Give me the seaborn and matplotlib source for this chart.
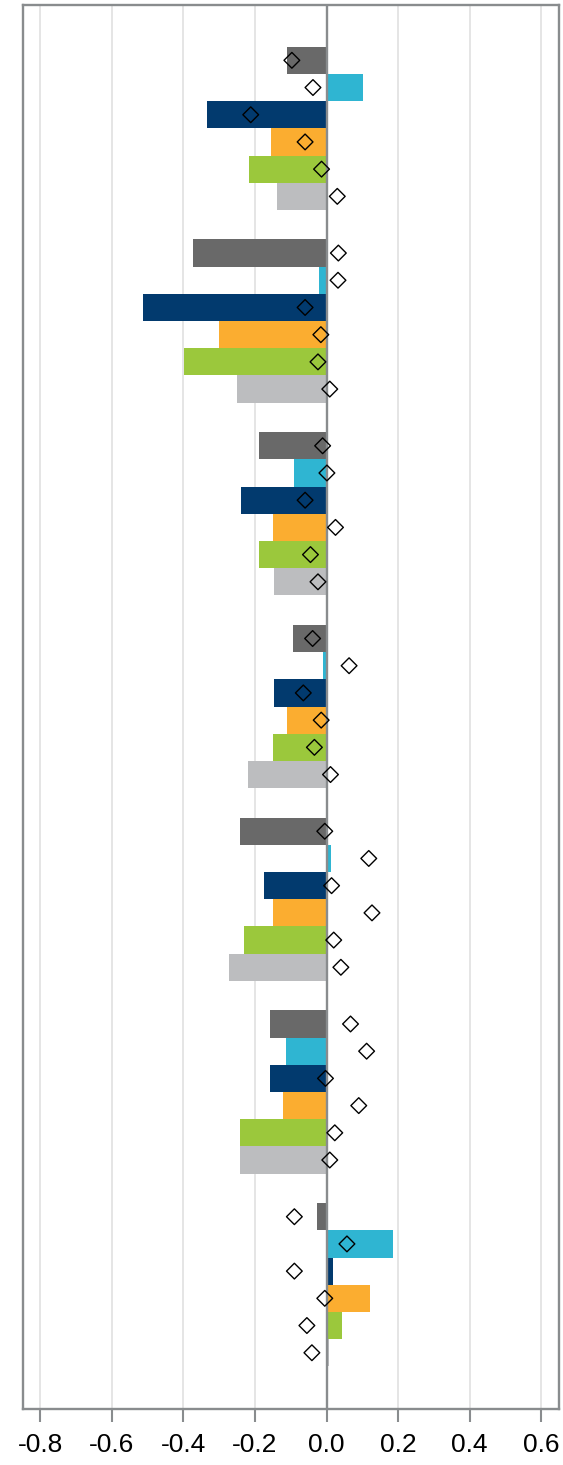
import matplotlib
matplotlib.use("Agg")
import matplotlib.pyplot as plt
import seaborn as sns
import pandas as pd
import numpy as np

# groupes (pas d'étiquettes visibles sur l'axe vertical)
groups = ["G1", "G2", "G3", "G4", "G5", "G6", "G7"]
series = ["S1", "S2", "S3", "S4", "S5", "S6"]
colors = ["#696969", "#2FB5D2", "#023A6E", "#FBAD30", "#9BC83C", "#BCBDBF"]

# valeurs des barres, une liste par série (dans l'ordre des groupes)
s1_bars = [-0.111, -0.373, -0.189, -0.095, -0.243, -0.159, -0.028]
s2_bars = [0.102, -0.020, -0.092, -0.010, 0.013, -0.113, 0.185]
s3_bars = [-0.333, -0.513, -0.240, -0.146, -0.176, -0.158, 0.018]
s4_bars = [-0.156, -0.302, -0.151, -0.111, -0.149, -0.123, 0.122]
s5_bars = [-0.216, -0.399, -0.189, -0.149, -0.231, -0.243, 0.042]
s6_bars = [-0.139, -0.250, -0.147, -0.220, -0.273, -0.241, 0.007]

# valeurs des losanges
s1_marks = [-0.097, 0.033, -0.011, -0.039, -0.005, 0.067, -0.090]
s2_marks = [-0.038, 0.032, 0.001, 0.063, 0.118, 0.112, 0.057]
s3_marks = [-0.212, -0.060, -0.060, -0.065, 0.014, -0.003, -0.090]
s4_marks = [-0.060, -0.016, 0.025, -0.015, 0.127, 0.090, -0.005]
s5_marks = [-0.014, -0.024, -0.045, -0.034, 0.020, 0.023, -0.055]
s6_marks = [0.030, 0.009, -0.024, 0.011, 0.040, 0.009, -0.041]

x_ticks = [-0.8, -0.6, -0.4, -0.2, 0.0, 0.2, 0.4, 0.6]

bars = [s1_bars, s2_bars, s3_bars, s4_bars, s5_bars, s6_bars]
marks = [s1_marks, s2_marks, s3_marks, s4_marks, s5_marks, s6_marks]

rows = []
for si, s in enumerate(series):
    for gi, g in enumerate(groups):
        rows.append({"group": g, "series": s, "value": bars[si][gi],
                     "mark": marks[si][gi], "gi": gi, "si": si})
df = pd.DataFrame(rows)

sns.set_style("white")
plt.rcParams["font.family"] = ["Liberation Sans", "DejaVu Sans"]
plt.rcParams["axes.unicode_minus"] = False

GROUP_W = 0.847
bar_h = GROUP_W / len(series)
df["ypos"] = df["gi"] + (df["si"] - (len(series) - 1) / 2) * bar_h

fig = plt.figure(figsize=(5.63, 14.65), dpi=100)
ax = fig.add_axes([0.040, 0.0382, 0.953, 0.9584])

sns.barplot(data=df, y="group", x="value", hue="series", order=groups,
            hue_order=series, palette=colors, orient="h", width=GROUP_W,
            dodge=True, legend=False, saturation=1, linewidth=0,
            errorbar=None, ax=ax, zorder=2)

# ligne du zéro
ax.axvline(0, color="#898C8E", lw=1.7, zorder=4)

# losanges
ax.scatter(df["mark"], df["ypos"], marker="D", s=64, facecolors="none",
           edgecolors="black", linewidths=1.0, zorder=5)

ax.set_xlim(-0.85, 0.65)
ax.set_ylim(6.645, -0.64)
ax.set_xticks(x_ticks)
ax.set_xticklabels(["%.1f" % t for t in x_ticks])
ax.set_yticks([])
ax.set_xlabel("")
ax.set_ylabel("")

ax.grid(axis="x", color="#E3E3E3", lw=1.3)
ax.set_axisbelow(True)
for sp in ax.spines.values():
    sp.set_visible(True)
    sp.set_color("#898C8E")
    sp.set_linewidth(1.7)

ax.tick_params(axis="x", direction="out", length=9.5, width=1.5,
               color="#898C8E", labelsize=19, labelcolor="black", pad=8,
               bottom=True)

fig.savefig("out.png", dpi=100)
